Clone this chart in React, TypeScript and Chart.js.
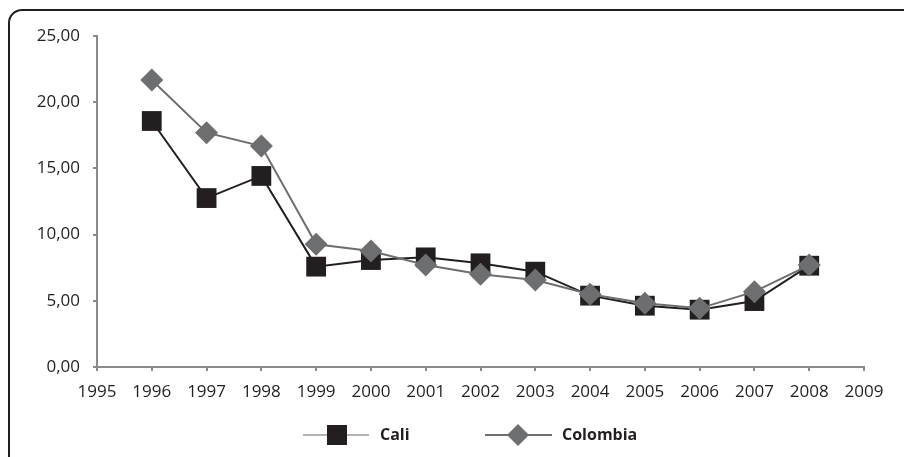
import React, { useEffect, useRef } from "react";
import { Chart, registerables } from "chart.js";

Chart.register(...registerables);

const years = [1996, 1997, 1998, 1999, 2000, 2001, 2002, 2003, 2004, 2005, 2006, 2007, 2008];
const caliValues = [18.58, 12.76, 14.43, 7.58, 8.08, 8.28, 7.83, 7.2, 5.39, 4.63, 4.33, 4.98, 7.65];
const colombiaValues = [21.68, 17.7, 16.69, 9.27, 8.76, 7.7, 7.0, 6.57, 5.49, 4.81, 4.43, 5.69, 7.7];
const seriesNames = ["Cali", "Colombia"];

const W = 904;
const H = 457;
const FONT = "'Open Sans', 'DejaVu Sans', sans-serif";

const framePlugin = {
  id: "frameAndLegend",
  afterDraw(chart: any) {
    const ctx = chart.ctx as CanvasRenderingContext2D;
    ctx.save();
    // frame
    ctx.strokeStyle = "#231f20";
    ctx.lineWidth = 2;
    ctx.beginPath();
    ctx.moveTo(9, H + 5);
    ctx.lineTo(9, 23);
    ctx.arcTo(9, 10, 22, 10, 13);
    ctx.lineTo(W + 5, 10);
    ctx.stroke();

    // legend
    const ly = 435;
    ctx.lineWidth = 2;
    ctx.strokeStyle = "#b3b3b3";
    ctx.beginPath();
    ctx.moveTo(303, ly);
    ctx.lineTo(369, ly);
    ctx.stroke();
    ctx.fillStyle = "#231f20";
    ctx.fillRect(327, ly - 10, 20, 20);

    ctx.strokeStyle = "#6d6e70";
    ctx.beginPath();
    ctx.moveTo(485, ly);
    ctx.lineTo(552, ly);
    ctx.stroke();
    ctx.fillStyle = "#6d6e70";
    ctx.beginPath();
    ctx.moveTo(518 - 11, ly);
    ctx.lineTo(518, ly - 11);
    ctx.lineTo(518 + 11, ly);
    ctx.lineTo(518, ly + 11);
    ctx.closePath();
    ctx.fill();

    ctx.fillStyle = "#231f20";
    ctx.font = `bold 16px ${FONT}`;
    ctx.textBaseline = "middle";
    ctx.textAlign = "left";
    ctx.fillText(seriesNames[0], 380, ly);
    ctx.fillText(seriesNames[1], 562, ly);
    ctx.restore();
  },
};

export default function App() {
  const ref = useRef<HTMLCanvasElement>(null);

  useEffect(() => {
    if (!ref.current) return;
    const chart = new Chart(ref.current, {
      type: "line",
      data: {
        datasets: [
          {
            label: seriesNames[0],
            order: 1,
            data: years.map((y, i) => ({ x: y, y: caliValues[i] })),
            borderColor: "#231f20",
            backgroundColor: "#231f20",
            borderWidth: 2,
            pointStyle: "rect",
            pointRadius: 14,
            pointBorderWidth: 0,
            pointBackgroundColor: "#231f20",
            pointHoverRadius: 14,
          },
          {
            label: seriesNames[1],
            order: 0,
            data: years.map((y, i) => ({ x: y, y: colombiaValues[i] })),
            borderColor: "#6d6e70",
            backgroundColor: "#6d6e70",
            borderWidth: 2,
            pointStyle: "rectRot",
            pointRadius: 11.5,
            pointBorderWidth: 0,
            pointBackgroundColor: "#6d6e70",
            pointHoverRadius: 11.5,
          },
        ],
      },
      options: {
        responsive: false,
        animation: false,
        layout: { padding: { left: 0, right: 40, top: 36, bottom: 0 } },
        plugins: {
          legend: { display: false },
          tooltip: { enabled: false },
        },
        scales: {
          x: {
            type: "linear",
            min: 1995,
            max: 2009,
            ticks: {
              stepSize: 1,
              color: "#231f20",
              font: { family: FONT, size: 17 },
              padding: 11,
              maxRotation: 0,
              callback: (v: any) => String(v),
            },
            grid: {
              display: true,
              drawOnChartArea: false,
              drawTicks: true,
              tickLength: 4,
              color: "#8a8a8a",
              lineWidth: 2,
            },
            border: { color: "#8a8a8a", width: 2 },
            afterFit: (scale: any) => {
              scale.height = 90;
            },
          },
          y: {
            min: 0,
            max: 25,
            ticks: {
              stepSize: 5,
              color: "#231f20",
              font: { family: FONT, size: 17 },
              padding: 13,
              callback: (v: any) => Number(v).toFixed(2).replace(".", ","),
            },
            grid: {
              display: true,
              drawOnChartArea: false,
              drawTicks: true,
              tickLength: 4,
              color: "#8a8a8a",
              lineWidth: 2,
            },
            border: { color: "#8a8a8a", width: 2 },
            afterFit: (scale: any) => {
              scale.width = 97;
            },
          },
        },
      },
      plugins: [framePlugin],
    });
    return () => chart.destroy();
  }, []);

  return (
    <div style={{ position: "fixed", left: 0, top: 0, width: W, height: H, background: "#fff" }}>
      <canvas ref={ref} width={W} height={H} style={{ display: "block" }} />
    </div>
  );
}
